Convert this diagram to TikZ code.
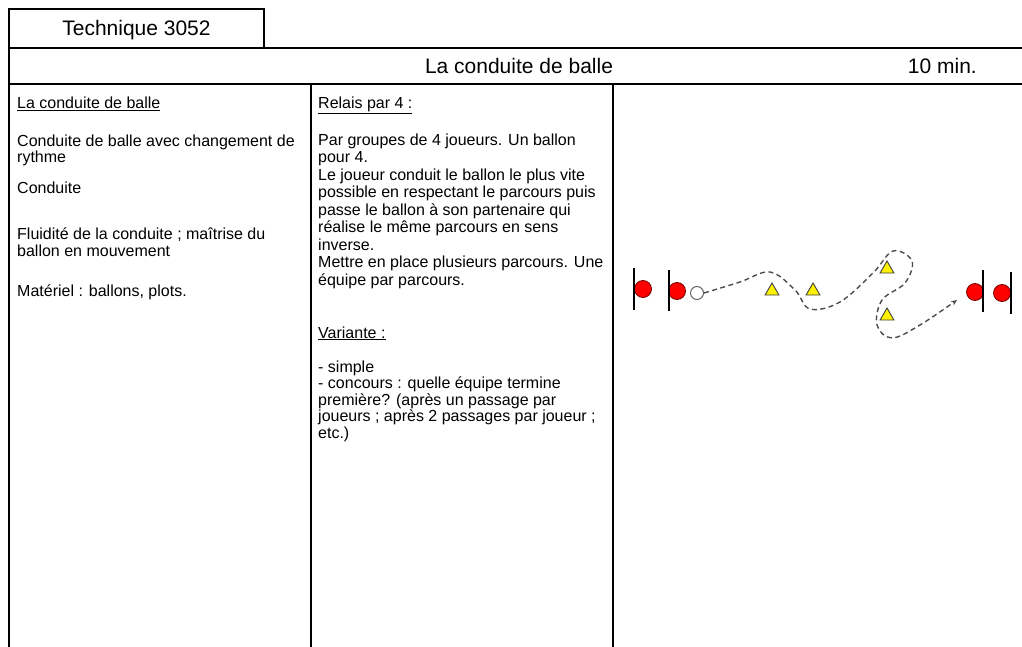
\documentclass[tikz,border=0pt]{standalone}
\usepackage{fontspec}
\setmainfont{Liberation Sans}
\usetikzlibrary{arrows.meta,shapes.geometric}

\tikzset{
	rule/.style={line width=2.4pt},
	body/.style={anchor=base west, inner sep=0pt, align=left, font=\fontsize{16}{16.5}\selectfont},
	head/.style={anchor=base, inner sep=0pt, font=\fontsize{21}{24}\selectfont},
	player/.style={circle, draw=red!45!black, fill=red, minimum size=17pt, inner sep=0pt, line width=0.8pt},
	freeball/.style={circle, draw=black!60, fill=white, minimum size=13pt, inner sep=0pt, line width=1pt},
	cone/.style={regular polygon, regular polygon sides=3, draw=black!75, fill=yellow, minimum size=16pt, inner sep=0pt, line width=0.9pt},
	pole/.style={line width=1.3pt},
	dribble/.style={dash pattern=on 5pt off 3.5pt, line width=1.4pt, black!70, -{Stealth[length=6pt,width=5pt]}}
}

\begin{document}
\begin{tikzpicture}[x=1pt,y=-1pt,>=latex]
	\useasboundingbox (0,0) rectangle (1022,647);
	% grille de la fiche
	\node[draw, rule, minimum width=255pt, minimum height=39pt, inner sep=0pt] (tech) at (136.5,28.5) {};
	\node[head] (techlabel) at (136.5,36) {Technique 3052};
	\draw[rule] (9,9) -- (9,647);
	\draw[rule] (9,48) -- (1022,48);
	\draw[rule] (9,84) -- (1022,84);
	\draw[rule] (311,84) -- (311,647);
	\draw[rule] (613,84) -- (613,647);
	\node[head] (title) at (519,74) {La conduite de balle};
	\node[head, anchor=base east] (dur) at (977,74) {10 min.};

	% colonne objectifs (base = derniere ligne)
	\node[body] (goal) at (17,108.5) {\underline{La conduite de balle}};
	\node[body] (theme) at (17,163) {Conduite de balle avec changement de\\rythme};
	\node[body] (kind) at (17,193.5) {Conduite};
	\node[body] (aim) at (17,256) {Fluidité de la conduite ; maîtrise du\\ballon en mouvement};
	\node[body] (kit) at (17,296) {Matériel : ballons, plots.};

	% colonne consignes
	\node[body] (relay) at (318,108.5) {\underline{Relais par 4 :}};
	\node[body, font=\fontsize{16}{17.5}\selectfont] (rules) at (318,285) {Par groupes de 4 joueurs. Un ballon\\pour 4.\\Le joueur conduit le ballon le plus vite\\possible en respectant le parcours puis\\passe le ballon à son partenaire qui\\réalise le même parcours en sens\\inverse.\\Mettre en place plusieurs parcours. Une\\équipe par parcours.};
	\node[body] (var) at (318,338) {\underline{Variante :}};
	\node[body] (varlist) at (318,438) {- simple\\- concours : quelle équipe termine\\première? (après un passage par\\joueurs ; après 2 passages par joueur ;\\etc.)};

	% schema
	\node[player] (pa) at (643,289) {};
	\draw[pole] (634,268) -- (634,310);
	\node[player] (pb) at (677,291) {};
	\draw[pole] (669,270) -- (669,311);
	\node[freeball] (ball) at (697,293) {};
	\node[cone] (ca) at (772,291) {};
	\node[cone] (cb) at (813,291) {};
	\node[cone] (cc) at (887,269) {};
	\node[cone] (cd) at (887,316) {};
	\node[player] (pc) at (975,292) {};
	\draw[pole] (983,270) -- (983,312);
	\node[player] (pd) at (1002,293) {};
	\draw[pole] (1011,272) -- (1011,314);
	\coordinate (tip) at (957,300);
	\draw[dribble] plot[smooth, tension=0.6] coordinates {(ball.east) (740,282) (770,272) (795,290) (810,309) (840,302) (873,273) (893,251) (912,261) (905,283) (882,300) (877,325) (892,338) (920,325) (tip)};
\end{tikzpicture}
\end{document}
